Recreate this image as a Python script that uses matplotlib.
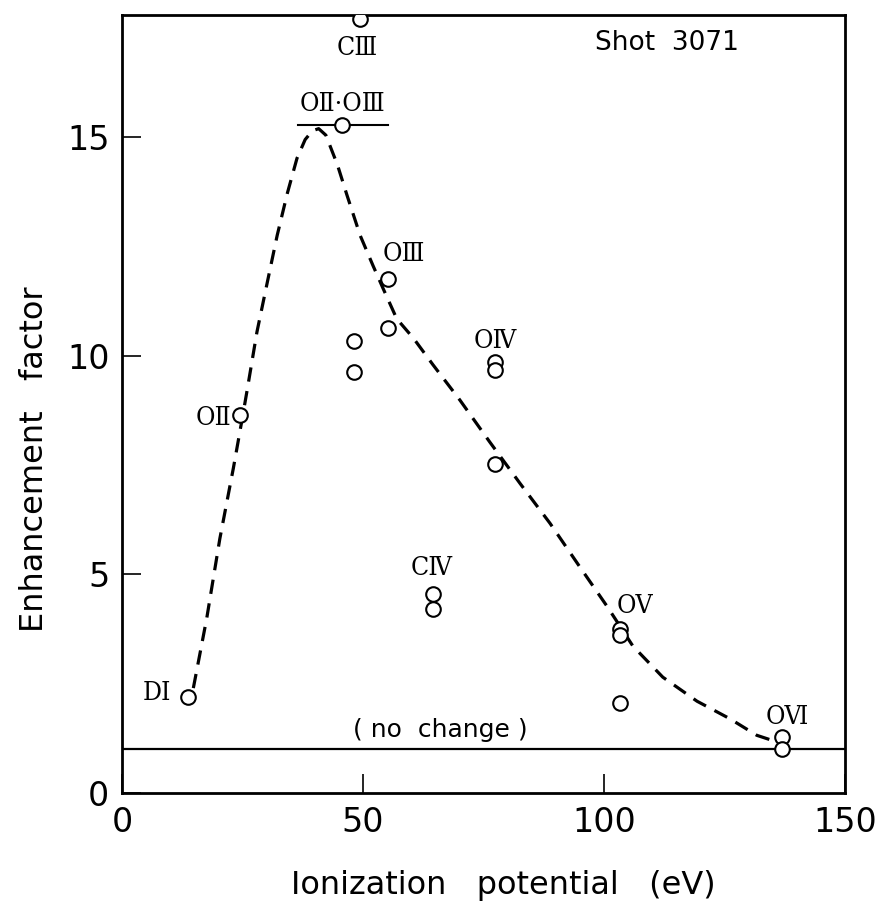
import matplotlib
matplotlib.use("Agg")
import matplotlib.pyplot as plt

# ---- data ----
pt_x = [13.7, 24.5, 45.7, 49.4, 55.2, 55.2, 48.1, 48.1, 77.4, 77.4, 77.4,
        64.6, 64.6, 103.4, 103.4, 103.4, 137.0, 137.0]
pt_y = [2.2, 8.64, 15.28, 17.7, 11.76, 10.65, 10.35, 9.64, 9.85, 9.68, 7.53,
        4.56, 4.21, 3.76, 3.61, 2.05, 1.27, 1.0]

peak_y = 15.28
peak_range = [36.5, 55.2]

curve_x = [14.8, 17.6, 20.3, 23.1, 24.9, 26.0, 28.0, 30.1, 32.2, 34.3, 36.3,
           38.0, 39.5, 40.8, 42.3, 44.7, 46.7, 49.4, 52.1, 54.1, 57.0, 60.5, 64.5,
           70.1, 76.3, 82.6, 88.8, 95.0, 100.7, 106.0, 112.2, 119.3, 126.1,
           131.7, 135.0]
curve_y = [2.4, 4.01, 5.82, 7.43, 8.54, 9.24, 10.55, 11.66, 12.76, 13.72, 14.52,
           14.95, 15.15, 15.2, 15.05, 14.37, 13.67, 12.76, 12.06, 11.56, 10.85, 10.4, 9.8,
           8.99, 8.03, 7.08, 6.17, 5.17, 4.26, 3.36, 2.65, 2.1, 1.7,
           1.32, 1.2]

no_change = 1.0

labels = ["D\u2160", "O\u2161", "O\u2161\u00b7O\u2162", "C\u2162", "O\u2162",
          "O\u2163", "C\u2163", "O\u2164", "O\u2165"]
label_x = [7.3, 18.9, 45.7, 48.8, 58.5, 77.4, 64.3, 106.4, 138.0]
label_y = [2.29, 8.6, 15.78, 17.06, 12.35, 10.36, 5.17, 4.3, 1.74]

x_ticks = [0, 50, 100, 150]
y_ticks = [0, 5, 10, 15]

plt.rcParams['font.family'] = ['DejaVu Sans']

fig = plt.figure(figsize=(8.79, 9.11), dpi=100)
ax = fig.add_axes([122/879, 1 - 793/911, 723/879, 778/911])

ax.plot(curve_x, curve_y, color='black', lw=2.3, dashes=(4.5, 3))
ax.plot(peak_range, [peak_y, peak_y], color='black', lw=1.5)
ax.axhline(no_change, color='black', lw=1.6)
ax.plot(pt_x, pt_y, 'o', ms=10.5, mfc='white', mec='black', mew=1.5, zorder=5)

for t, x, y in zip(labels, label_x, label_y):
    ax.text(x, y, t, ha='center', va='center', fontsize=19,
            family=['DejaVu Serif'], stretch='condensed')

ax.text(66.0, 1.44, "( no  change )", ha='center', va='center', fontsize=18)
ax.text(113.1, 17.15, "Shot  3071", ha='center', va='center', fontsize=19)

ax.set_xlim(0, 150)
ax.set_ylim(0, 17.8)
ax.set_xticks(x_ticks)
ax.set_yticks(y_ticks)
ax.tick_params(direction='in', length=14, width=1.2, labelsize=24, pad=9)
for s in ax.spines.values():
    s.set_linewidth(2)

ax.set_xlabel("Ionization   potential   (eV)", fontsize=23)
ax.set_ylabel("Enhancement   factor", fontsize=23)
ax.xaxis.set_label_coords(0.528, -0.099)
ax.yaxis.set_label_coords(-0.10, 0.429)

fig.savefig("out.png", dpi=100)
